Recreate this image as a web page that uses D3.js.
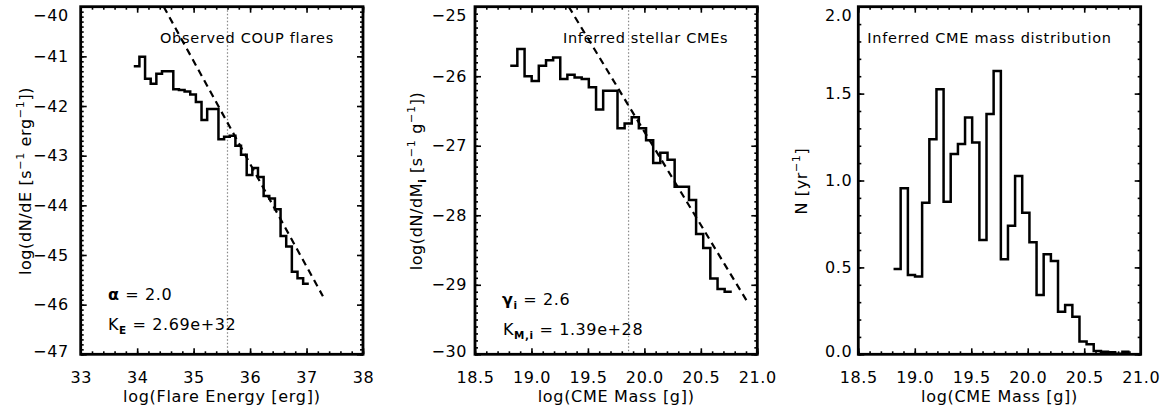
<!DOCTYPE html>
<html>
<head>
<meta charset="utf-8">
<script src="https://cdn.jsdelivr.net/npm/d3@7"></script>
<style>
  body { margin: 0; background: #fff; }
  text { font-family: "DejaVu Sans", sans-serif; fill: #000; }
</style>
</head>
<body>
<svg id="chart" width="1169" height="415"></svg>
<script>
// ---------- data ----------
// panel 1: observed flare energy distribution (log dN/dE per 0.1 dex bin)
var flareEdges = [33.94, 34.04, 34.14, 34.24, 34.34, 34.44, 34.54, 34.64, 34.74, 34.84,
  34.94, 35.04, 35.14, 35.24, 35.34, 35.44, 35.54, 35.64, 35.74, 35.84,
  35.94, 36.04, 36.14, 36.24, 36.34, 36.44, 36.54, 36.64, 36.74, 36.84,
  36.94, 37.04];
var flareLogRate = [-41.20, -41.01, -41.45, -41.55, -41.35, -41.30, -41.30, -41.66, -41.68, -41.71,
  -41.77, -41.92, -42.28, -42.06, -42.06, -42.67, -42.62, -42.60, -42.80, -42.98,
  -43.39, -43.25, -43.43, -43.81, -43.86, -44.08, -44.62, -44.83, -45.34, -45.47,
  -45.58];
var flareFitE = [34.47, 37.29];
var flareFitRate = [-40.0, -45.83];
var flareCut = 35.6;

// panels 2 and 3: CME masses
var massEdges = [18.812, 18.875, 18.939, 19.002, 19.065, 19.129, 19.192, 19.255, 19.318, 19.382,
  19.445, 19.508, 19.572, 19.635, 19.698, 19.762, 19.825, 19.888, 19.951, 20.015,
  20.078, 20.141, 20.205, 20.268, 20.331, 20.395, 20.458, 20.521, 20.584, 20.648,
  20.711, 20.774, 20.838, 20.901];
var cmeLogRate = [-25.85, -25.61, -26.00, -26.07, -25.85, -25.77, -25.73, -26.04, -25.98, -26.02,
  -26.04, -26.16, -26.48, -26.21, -26.21, -26.75, -26.68, -26.59, -26.75, -26.92,
  -27.25, -27.10, -27.20, -27.59, -27.59, -27.78, -28.27, -28.47, -28.91, -29.06,
  -29.10];
var cmeFitM = [19.33, 20.91];
var cmeFitRate = [-25.0, -29.24];
var massCut = 19.86;

var cmePerYear = [0.491, 0.955, 0.456, 0.447, 0.872, 1.237, 1.525, 0.878, 1.152, 1.210,
  1.363, 1.218, 0.658, 1.383, 1.630, 0.547, 0.740, 1.026, 0.815, 0.644,
  0.341, 0.575, 0.537, 0.245, 0.284, 0.216, 0.073, 0.058, 0.019, 0.015,
  0.012, 0.003, 0.015];

// ticks
var flareXTicks = [33, 34, 35, 36, 37, 38];
var flareYTicks = [-47, -46, -45, -44, -43, -42, -41, -40];
var massXTicks = [18.5, 19.0, 19.5, 20.0, 20.5, 21.0];
var cmeYTicks = [-30, -29, -28, -27, -26, -25];
var countYTicks = [0, 0.5, 1.0, 1.5, 2.0];

// ---------- drawing ----------
var svg = d3.select("#chart");
var plotTop = 6.7, plotBottom = 354.3;

function addRich(sel, parts, size) {
  parts.forEach(function (p) {
    var ts = sel.append("tspan").text(p.t);
    if (p.sup) ts.attr("dy", -7).attr("font-size", size * 0.7);
    else if (p.sub) ts.attr("dy", 4).attr("font-size", size * 0.65).attr("font-weight", "bold");
    else if (p.back) ts.attr("dy", p.back);
    if (p.bold) ts.attr("font-weight", "bold");
  });
}

function drawPanel(p) {
  var x = d3.scaleLinear(p.xDomain, [p.left, p.right]);
  var y = d3.scaleLinear(p.yDomain, [plotBottom, plotTop]);
  var g = svg.append("g");

  // inward ticks on all four sides
  function ticks(axisFn, scale, vals, len, pos, horiz) {
    var a = g.append("g")
      .attr("transform", horiz ? "translate(0," + pos + ")" : "translate(" + pos + ",0)")
      .call(axisFn(scale).tickValues(vals).tickSize(len).tickFormat(""));
    a.select(".domain").remove();
    a.selectAll("line").attr("stroke", "#000").attr("stroke-width", 1.6);
  }
  ticks(d3.axisBottom, x, p.xTicks, -6, plotBottom, true);
  ticks(d3.axisTop, x, p.xTicks, -6, plotTop, true);
  ticks(d3.axisBottom, x, p.xMinor, -3, plotBottom, true);
  ticks(d3.axisTop, x, p.xMinor, -3, plotTop, true);
  ticks(d3.axisLeft, y, p.yTicks, -6, p.left, false);
  ticks(d3.axisRight, y, p.yTicks, -6, p.right, false);
  ticks(d3.axisLeft, y, p.yMinor, -3, p.left, false);
  ticks(d3.axisRight, y, p.yMinor, -3, p.right, false);

  // tick labels
  var xl = g.append("g").attr("transform", "translate(0," + plotBottom + ")")
    .call(d3.axisBottom(x).tickValues(p.xTicks).tickFormat(d3.format(p.xFmt)).tickSize(0).tickPadding(17));
  var yl = g.append("g").attr("transform", "translate(" + p.left + ",0)")
    .call(d3.axisLeft(y).tickValues(p.yTicks).tickFormat(d3.format(p.yFmt)).tickSize(0).tickPadding(p.yPad));
  [xl, yl].forEach(function (a) {
    a.select(".domain").remove();
    a.selectAll("text").attr("font-size", 16).attr("font-family", "DejaVu Sans")
      .style("letter-spacing", "0.6px").attr("fill", "#000");
  });
  // the end labels are nudged inside the frame height
  var yMax = d3.max(p.yTicks), yMin = d3.min(p.yTicks);
  yl.selectAll(".tick text").attr("dy", function (d) {
    return d === yMax ? "0.86em" : d === yMin ? "0.12em" : "0.32em";
  });

  // cut-off line
  if (p.cut != null) {
    g.append("line")
      .attr("x1", x(p.cut)).attr("x2", x(p.cut))
      .attr("y1", plotTop).attr("y2", plotBottom)
      .attr("stroke", "#888").attr("stroke-width", 1.2).attr("stroke-dasharray", "1.5,2");
  }

  // histogram
  var pts = p.values.map(function (v, i) { return [p.edges[i], v]; });
  pts.push([p.edges[p.values.length], p.values[p.values.length - 1]]);
  var line = d3.line()
    .x(function (d) { return x(d[0]); })
    .y(function (d) { return y(d[1]); })
    .curve(d3.curveStepAfter);
  g.append("path").attr("d", line(pts))
    .attr("fill", "none").attr("stroke", "#000").attr("stroke-width", 2.5);

  // power-law fit
  if (p.fitX) {
    var fit = p.fitX.map(function (v, i) { return [v, p.fitY[i]]; });
    g.append("path").attr("d", d3.line().x(function (d) { return x(d[0]); }).y(function (d) { return y(d[1]); })(fit))
      .attr("fill", "none").attr("stroke", "#000").attr("stroke-width", 2.2)
      .attr("stroke-dasharray", "7,5");
  }

  // frame
  g.append("rect")
    .attr("x", p.left).attr("y", plotTop)
    .attr("width", p.right - p.left).attr("height", plotBottom - plotTop)
    .attr("fill", "none").attr("stroke", "#000").attr("stroke-width", 2.8);

  // title inside the panel
  g.append("text")
    .attr("x", p.right - 29).attr("y", 43)
    .attr("text-anchor", "end").attr("font-size", 14.5)
    .style("letter-spacing", "0.7px")
    .text(p.title);

  // x axis title
  g.append("text")
    .attr("x", (p.left + p.right) / 2).attr("y", 402)
    .attr("text-anchor", "middle").attr("font-size", 16)
    .style("letter-spacing", "0.7px")
    .text(p.xLabel);

  // y axis title
  var yt = g.append("text")
    .attr("transform", "translate(" + p.yLabelX + ",181) rotate(-90)")
    .attr("text-anchor", "middle").attr("font-size", 16)
    .style("letter-spacing", "0.6px");
  addRich(yt, p.yLabel, 16);

  // fit parameters
  (p.notes || []).forEach(function (n) {
    var t = g.append("text").attr("x", n.x).attr("y", n.y).attr("font-size", 16)
      .style("letter-spacing", "0.6px");
    addRich(t, n.parts, 16);
  });
}

drawPanel({
  left: 80.7, right: 363,
  xDomain: [33, 38], yDomain: [-47, -40],
  xTicks: flareXTicks, yTicks: flareYTicks,
  xMinor: d3.range(33, 38.001, 0.2), yMinor: d3.range(-47, -39.999, 0.1),
  xFmt: "d", yFmt: "d", yPad: 12,
  edges: flareEdges, values: flareLogRate,
  fitX: flareFitE, fitY: flareFitRate, cut: flareCut,
  title: "Observed COUP flares",
  xLabel: "log(Flare Energy [erg])",
  yLabelX: 31,
  yLabel: [{ t: "log(dN/dE [s" }, { t: "\u22121", sup: true }, { t: " erg", back: 7 },
    { t: "\u22121", sup: true }, { t: "])", back: 7 }],
  notes: [
    { x: 108, y: 300, parts: [{ t: "\u03b1", bold: true }, { t: " = 2.0" }] },
    { x: 108, y: 330, parts: [{ t: "K" }, { t: "E", sub: true }, { t: " = 2.69e+32", back: -4 }] }
  ]
});

drawPanel({
  left: 475, right: 757.3,
  xDomain: [18.5, 21], yDomain: [-30, -25],
  xTicks: massXTicks, yTicks: cmeYTicks,
  xMinor: d3.range(18.5, 21.001, 0.1), yMinor: d3.range(-30, -24.999, 0.1),
  xFmt: ".1f", yFmt: "d", yPad: 8,
  edges: massEdges, values: cmeLogRate,
  fitX: cmeFitM, fitY: cmeFitRate, cut: massCut,
  title: "Inferred stellar CMEs",
  xLabel: "log(CME Mass [g])",
  yLabelX: 421.5,
  yLabel: [{ t: "log(dN/dM" }, { t: "i", sub: true }, { t: " [s", back: -4 }, { t: "\u22121", sup: true },
    { t: " g", back: 7 }, { t: "\u22121", sup: true }, { t: "])", back: 7 }],
  notes: [
    { x: 502, y: 305, parts: [{ t: "\u03b3", bold: true }, { t: "i", sub: true }, { t: " = 2.6", back: -4 }] },
    { x: 503, y: 335, parts: [{ t: "K" }, { t: "M,i", sub: true }, { t: " = 1.39e+28", back: -4 }] }
  ]
});

drawPanel({
  left: 858.3, right: 1140.7,
  xDomain: [18.5, 21], yDomain: [0, 2],
  xTicks: massXTicks, yTicks: countYTicks,
  xMinor: d3.range(18.5, 21.001, 0.1), yMinor: d3.range(0, 2.001, 0.1),
  xFmt: ".1f", yFmt: ".1f", yPad: 6,
  edges: massEdges, values: cmePerYear,
  title: "Inferred CME mass distribution",
  xLabel: "log(CME Mass [g])",
  yLabelX: 806.5,
  yLabel: [{ t: "N [yr" }, { t: "\u22121", sup: true }, { t: "]", back: 7 }]
});
</script>
</body>
</html>
